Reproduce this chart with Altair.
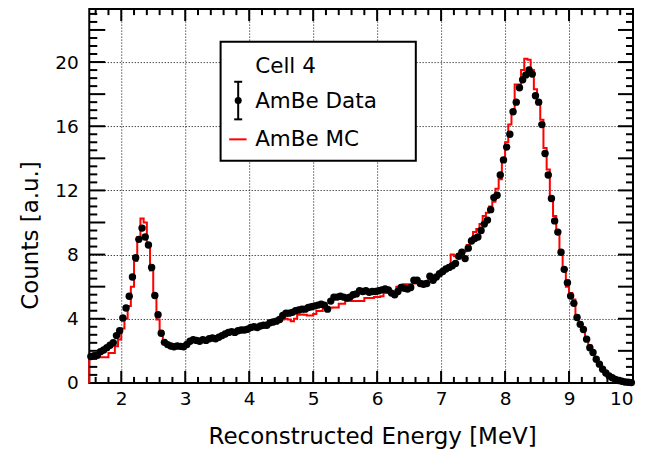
import altair as alt
import pandas as pd

# ---------------- data ----------------
x_start = 1.5
bin_width = 0.05

data_counts = [
    1.65, 1.70, 1.72, 1.95, 2.05, 2.20, 2.35, 2.50, 2.95, 3.25,
    4.05, 4.67, 5.40, 6.60, 7.80, 8.95, 9.65, 9.10, 8.60, 7.20,
    5.45, 4.25, 3.10, 2.53, 2.39, 2.30, 2.25, 2.30, 2.28, 2.25,
    2.40, 2.60, 2.70, 2.65, 2.60, 2.70, 2.65, 2.75, 2.80, 2.75,
    2.85, 2.95, 3.05, 3.15, 3.20, 3.15, 3.25, 3.30, 3.30, 3.35,
    3.45, 3.50, 3.45, 3.55, 3.60, 3.60, 3.75, 3.80, 3.85, 3.95,
    4.20, 4.35, 4.35, 4.40, 4.50, 4.55, 4.60, 4.60, 4.70, 4.75,
    4.80, 4.85, 4.90, 4.85, 4.60, 5.10, 5.35, 5.35, 5.40, 5.35,
    5.30, 5.35, 5.50, 5.55, 5.75, 5.70, 5.75, 5.65, 5.70, 5.70,
    5.75, 5.80, 5.85, 5.80, 5.60, 5.50, 5.70, 5.95, 5.90, 5.85,
    5.95, 6.40, 6.40, 6.20, 6.15, 6.20, 6.65, 6.40, 6.60, 6.80,
    6.95, 7.10, 7.20, 7.30, 7.45, 7.90, 8.15, 7.75, 8.40, 8.85,
    9.00, 9.10, 9.50, 9.90, 10.15, 10.80, 11.55, 11.70, 12.96, 13.90,
    14.70, 15.50, 16.90, 17.50, 18.40, 18.90, 19.20, 19.50, 19.25, 17.90,
    17.50, 16.10, 14.30, 12.96, 11.50, 10.10, 9.40, 8.15, 7.08, 6.25,
    5.42, 4.96, 4.08, 3.65, 3.33, 2.73, 2.20, 1.90, 1.48, 1.17,
    0.85, 0.62, 0.44, 0.32, 0.22, 0.15, 0.10, 0.06, 0.04, 0.02,
]

mc_counts = [
    1.60, 1.60, 1.60, 1.60, 1.60, 1.60, 1.87, 1.87, 2.28, 2.70,
    3.40, 4.00, 4.80, 6.00, 7.60, 9.10, 10.25, 10.00, 8.70, 7.00,
    5.40, 3.95, 3.20, 2.60, 2.40, 2.30, 2.25, 2.25, 2.30, 2.30,
    2.40, 2.50, 2.55, 2.60, 2.65, 2.65, 2.70, 2.70, 2.75, 2.80,
    2.85, 2.90, 2.95, 3.00, 3.05, 3.10, 3.15, 3.20, 3.25, 3.30,
    3.40, 3.45, 3.45, 3.50, 3.55, 3.60, 3.65, 3.70, 3.75, 3.85,
    3.95, 4.00, 3.95, 3.85, 4.00, 4.25, 4.27, 4.25, 4.20, 4.20,
    4.30, 4.48, 4.48, 4.69, 4.69, 4.69, 4.70, 4.70, 4.94, 4.94,
    5.10, 5.10, 5.10, 5.10, 5.10, 5.10, 5.30, 5.30, 5.30, 5.35,
    5.35, 5.40, 5.60, 5.60, 5.60, 5.60, 6.00, 6.00, 6.15, 6.15,
    6.15, 6.20, 6.35, 6.30, 6.30, 6.30, 6.50, 6.60, 6.60, 6.80,
    6.95, 7.10, 7.30, 8.00, 7.90, 7.90, 8.00, 8.20, 8.60, 9.00,
    9.40, 9.60, 9.90, 10.40, 10.60, 11.00, 11.30, 12.10, 12.70, 13.80,
    15.00, 16.10, 17.00, 18.60, 18.60, 19.50, 20.20, 20.15, 19.50, 18.30,
    17.60, 16.40, 14.65, 13.30, 11.60, 10.40, 9.30, 8.00, 7.00, 6.00,
    5.60, 5.20, 4.20, 3.80, 3.30, 2.80, 2.35, 1.95, 1.50, 1.15,
    0.90, 0.70, 0.50, 0.32, 0.22, 0.15, 0.10, 0.06, 0.04, 0.02,
]

x_domain = [1.5, 10.0]
y_domain = [0.0, 23.3]
x_label_values = [2, 3, 4, 5, 6, 7, 8, 9, 10]
y_grid_values = [0, 2, 4, 6, 8, 10, 12, 14, 16, 18, 20, 22]
legend_labels = ["Cell 4", "AmBe Data", "AmBe MC"]
x_title = "Reconstructed Energy [MeV]"
y_title = "Counts [a.u.]"

# ---------------- derived tables ----------------
n = len(data_counts)
centers = [round(x_start + bin_width * (i + 0.5), 4) for i in range(n)]
edges = [round(x_start + bin_width * i, 4) for i in range(len(mc_counts) + 1)]

df_data = pd.DataFrame({"E": centers, "counts": data_counts})

step_x = [edges[0]] + edges[:-1] + [edges[-1], edges[-1]]
step_y = [0.0] + mc_counts + [mc_counts[-1], 0.0]
df_mc = pd.DataFrame({"E": step_x, "counts": step_y, "order": list(range(len(step_x)))})

x_major = [2, 3, 4, 5, 6, 7, 8, 9]
x_minor = [round(1.5 + 0.2 * k / 2, 2) for k in range(0, 86)]
x_minor = sorted({round(v, 1) for v in [1.6 + 0.2 * k for k in range(42)]} - set(float(v) for v in x_major))
x_minor = [v for v in x_minor if 1.5 < v < 10]
y_major = [2, 4, 6, 8, 10, 12, 14, 16, 18, 20, 22]
y_minor = [round(0.5 * k, 1) for k in range(1, 47) if (0.5 * k) % 2 != 0]

W, H = 544, 374
FONT = "DejaVu Sans"

xs = alt.Scale(domain=x_domain, nice=False, zero=False)
ys = alt.Scale(domain=y_domain, nice=False, zero=False)

# ---------------- layers ----------------
grid_x_axis = alt.Axis(
    values=x_label_values, format="d", title=x_title,
    labelFont=FONT, labelFontSize=18.5, labelPadding=7, labelColor="black",
    ticks=False, tickSize=0, domain=False,
    grid=True, gridColor="black", gridDash=[1, 2], gridWidth=1,
    titleFont=FONT, titleFontSize=23, titleFontWeight="normal", titleColor="black",
    titleX=283, titleY=61, titleAlign="center", titleBaseline="alphabetic",
)
grid_y_axis = alt.Axis(
    values=y_grid_values, title=y_title,
    labelExpr="datum.value % 4 == 0 ? datum.label : ''",
    labelFont=FONT, labelFontSize=18.5, labelPadding=11, labelColor="black",
    ticks=False, tickSize=0, domain=False,
    grid=True, gridColor="black", gridDash=[1, 2], gridWidth=1,
    titleFont=FONT, titleFontSize=23, titleFontWeight="normal", titleColor="black",
    titleX=-52, titleY=226, titleAlign="center", titleBaseline="alphabetic", titleAngle=270,
)

mc_line = alt.Chart(df_mc).mark_line(
    color="#ff0000", strokeWidth=2, interpolate="step-after"
).encode(
    x=alt.X("E:Q", scale=xs, axis=grid_x_axis),
    y=alt.Y("counts:Q", scale=ys, axis=grid_y_axis),
    order="order:Q",
)

data_pts = alt.Chart(df_data).mark_circle(color="black", opacity=1, size=55).encode(
    x=alt.X("E:Q", scale=xs),
    y=alt.Y("counts:Q", scale=ys),
)

def xticks(vals, y0, y1):
    return alt.Chart(pd.DataFrame({"v": vals})).mark_rule(color="black", strokeWidth=2).encode(
        x=alt.X("v:Q", scale=xs), y=alt.value(y0), y2=alt.value(y1))

def yticks(vals, x0, x1):
    return alt.Chart(pd.DataFrame({"v": vals})).mark_rule(color="black", strokeWidth=2).encode(
        y=alt.Y("v:Q", scale=ys), x=alt.value(x0), x2=alt.value(x1))

tick_layers = [
    xticks(x_major, H, H - 12), xticks(x_minor, H, H - 6),
    xticks(x_major, 0, 12), xticks(x_minor, 0, 6),
    yticks(y_major, 0, 16), yticks(y_minor, 0, 8),
    yticks(y_major, W, W - 15), yticks(y_minor, W, W - 7),
]

one = pd.DataFrame({"k": [0]})
legend_box = alt.Chart(one).mark_rect(fill="white", stroke="black", strokeWidth=2).encode(
    x=alt.value(131.4), x2=alt.value(326.7), y=alt.value(32.7), y2=alt.value(151.7))

def legend_text(label, ypos):
    return alt.Chart(one).mark_text(
        align="left", baseline="alphabetic", font=FONT, fontSize=21.5, color="black"
    ).encode(x=alt.value(166), y=alt.value(ypos), text=alt.value(label))

leg_err = alt.Chart(one).mark_rule(color="black", strokeWidth=2).encode(
    x=alt.value(149), y=alt.value(72.7), y2=alt.value(110.3))
leg_cap1 = alt.Chart(one).mark_rule(color="black", strokeWidth=2).encode(
    x=alt.value(145), x2=alt.value(153), y=alt.value(72.7))
leg_cap2 = alt.Chart(one).mark_rule(color="black", strokeWidth=2).encode(
    x=alt.value(145), x2=alt.value(153), y=alt.value(110.3))
leg_dot = alt.Chart(one).mark_circle(color="black", opacity=1, size=50).encode(
    x=alt.value(149), y=alt.value(91.5))
leg_red = alt.Chart(one).mark_rule(color="#ff0000", strokeWidth=2).encode(
    x=alt.value(140), x2=alt.value(157.4), y=alt.value(130.3))

chart = alt.layer(
    mc_line, data_pts, *tick_layers,
    legend_box,
    legend_text(legend_labels[0], 63.5),
    legend_text(legend_labels[1], 99),
    legend_text(legend_labels[2], 137),
    leg_err, leg_cap1, leg_cap2, leg_dot, leg_red,
).properties(
    width=W, height=H,
    padding={"left": 81.3, "top": 1, "right": 16, "bottom": 70},
    autosize=alt.AutoSizeParams(type="none"),
    background="white",
).configure_view(stroke="black", strokeWidth=2)

chart.save("out.html", embed_options={"renderer": "svg", "actions": False})
